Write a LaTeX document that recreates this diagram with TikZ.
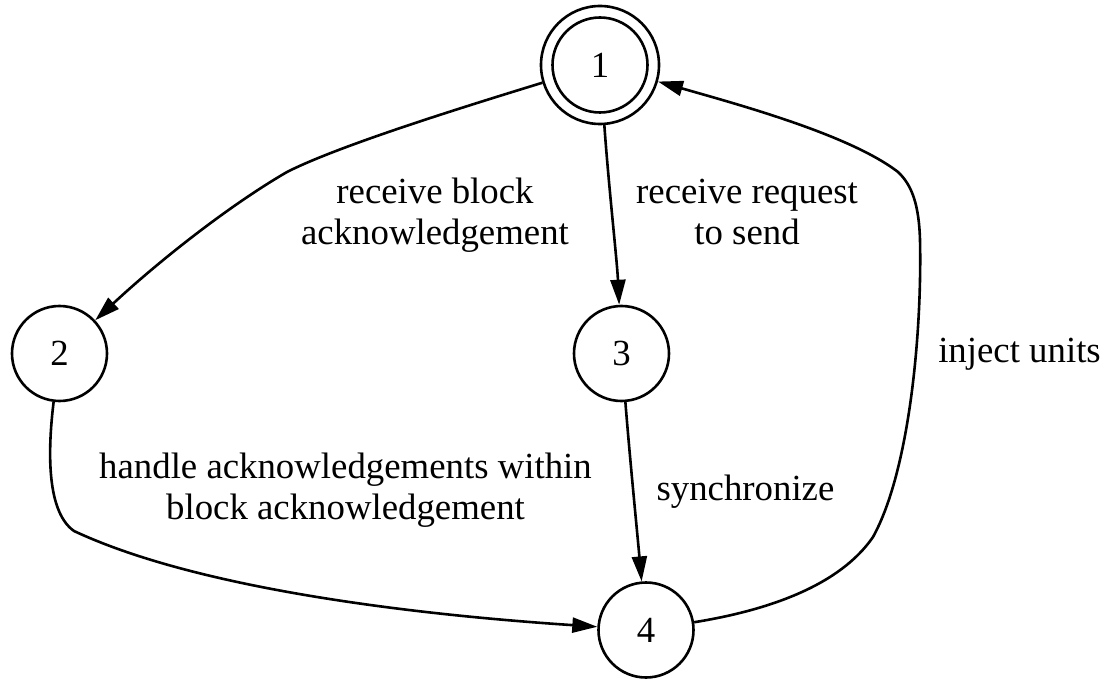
\documentclass[tikz,border=0pt]{standalone}
\usepackage{fontspec}
\setmainfont{Liberation Serif}
\usetikzlibrary{arrows.meta}
\tikzset{
  state/.style={draw, circle, line width=2.6pt, inner sep=0pt, minimum size=95pt},
  accept/.style={draw, circle, line width=2.6pt, inner sep=0pt, minimum size=118pt},
  edge/.style={line width=2.6pt, -{Triangle[length=25pt, width=15pt]}},
  lbl/.style={align=center, anchor=base, inner sep=0pt},
}
\begin{document}
\begin{tikzpicture}[x=1pt, y=-1pt,
  every node/.append style={font=\fontsize{36.8pt}{41pt}\selectfont}]
\useasboundingbox (0,0) rectangle (1106,679);

% states
\node[accept] (n1) at (600,65) {};
\node[state]  (n1i) at (600,65) {1};
\node[state]  (n2) at (59.5,353.5) {2};
\node[state]  (n3) at (621.5,353.5) {3};
\node[state]  (n4) at (646,630) {4};

% transitions
\draw[edge] (n1) .. controls (470,105) and (340,145) .. (287,172)
                 .. controls (230,205) and (160,260) .. (n2);
\draw[edge] (n1) .. controls (609,190) and (617,260) .. (n3);
\draw[edge] (n3) .. controls (630,460) and (637,530) .. (n4);
\draw[edge] (n2) .. controls (49,440) and (44,510) .. (74,531)
                 .. controls (200,590) and (420,615) .. (n4);
\draw[edge] (n4) .. controls (770,610) and (840,585) .. (873,537)
                 .. controls (910,470) and (922,330) .. (920,240)
                 .. controls (919,205) and (912,185) .. (898,172)
                 .. controls (850,135) and (740,105) .. (n1);

% transition labels (base = baseline of the last line)
\node[lbl] (l12) at (435,244) {receive block\\acknowledgement};
\node[lbl] (l13) at (747,244) {receive request\\to send};
\node[lbl] (l24) at (345.5,519) {handle acknowledgements within\\block acknowledgement};
\node[lbl] (l34) at (745.5,500) {synchronize};
\node[lbl] (l41) at (1019.5,362) {inject units};
\end{tikzpicture}
\end{document}
